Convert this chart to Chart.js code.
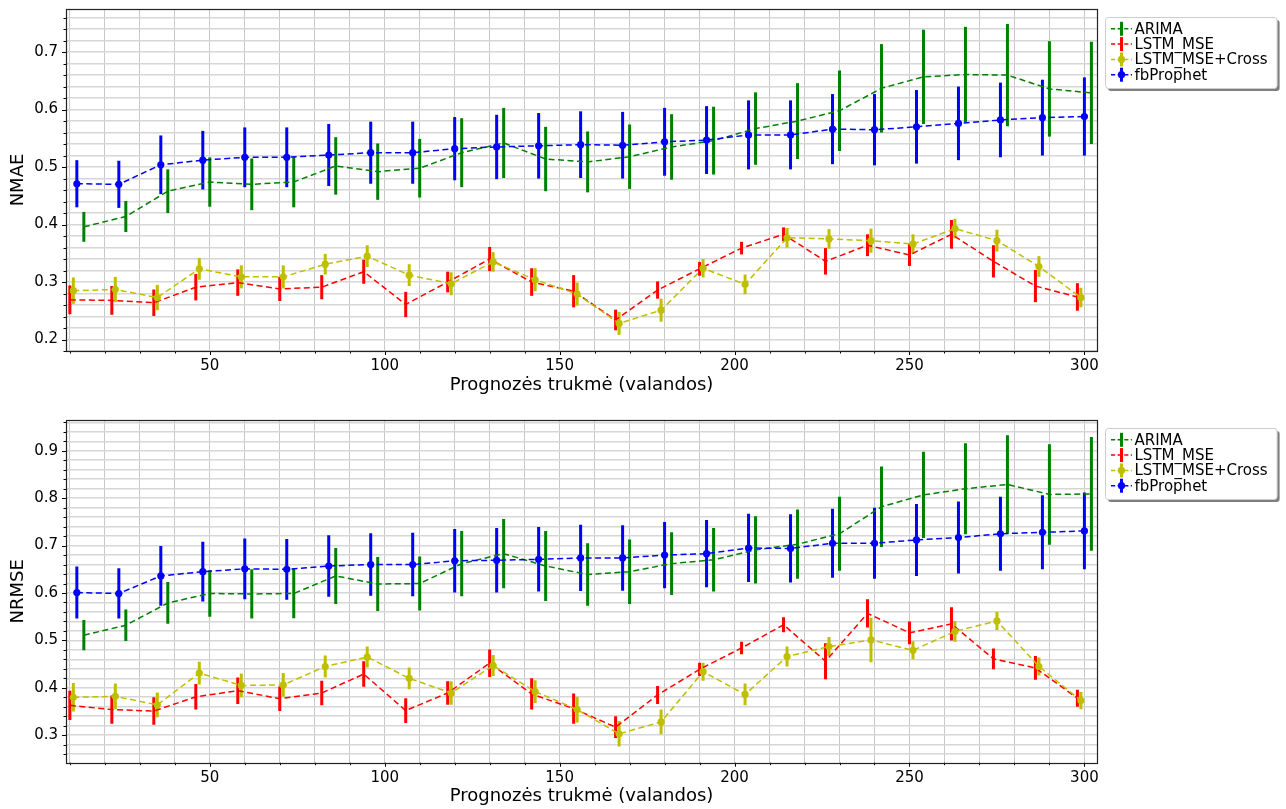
<!DOCTYPE html>
<html>
<head>
<meta charset="utf-8">
<script src="https://cdn.jsdelivr.net/npm/chart.js@4.4.0/dist/chart.umd.min.js"></script>
<style>
    html, body { margin: 0; padding: 0; background: #fff; }
    #topBox { position: absolute; left: 0; top: 0; width: 1286px; height: 405px; }
    #bottomBox { position: absolute; left: 0; top: 405px; width: 1286px; height: 404px; }
</style>
</head>
<body>
<div id="topBox"><canvas id="nmaeChart"></canvas></div>
<div id="bottomBox"><canvas id="nrmseChart"></canvas></div>
<script>
    // forecast horizon (hours)
    var horizons = [12, 24, 36, 48, 60, 72, 84, 96, 108, 120, 132, 144, 156, 168, 180, 192, 204, 216, 228, 240, 252, 264, 276, 288, 300];
    var seriesNames = ['ARIMA', 'LSTM_MSE', 'LSTM_MSE+Cross', 'fbProphet'];
    var xTickLabels = [50, 100, 150, 200, 250, 300];
    var nmaeTickLabels = [0.2, 0.3, 0.4, 0.5, 0.6, 0.7];
    var nrmseTickLabels = [0.3, 0.4, 0.5, 0.6, 0.7, 0.8, 0.9];

    // NMAE
    var arimaNmae = [0.396, 0.414, 0.458, 0.474, 0.470, 0.474, 0.502, 0.492, 0.498, 0.525, 0.542, 0.514, 0.509, 0.518, 0.535, 0.546, 0.567, 0.580, 0.598, 0.637, 0.657, 0.661, 0.660, 0.636, 0.629];
    var arimaNmaeErr = [0.026, 0.027, 0.038, 0.043, 0.045, 0.044, 0.050, 0.049, 0.051, 0.060, 0.061, 0.056, 0.053, 0.056, 0.057, 0.059, 0.063, 0.066, 0.070, 0.077, 0.082, 0.083, 0.089, 0.083, 0.089];
    var lstmNmae = [0.269, 0.268, 0.264, 0.291, 0.299, 0.288, 0.291, 0.318, 0.261, 0.300, 0.340, 0.300, 0.284, 0.234, 0.286, 0.323, 0.359, 0.383, 0.336, 0.364, 0.347, 0.383, 0.336, 0.293, 0.274];
    var lstmNmaeErr = [0.025, 0.025, 0.023, 0.023, 0.023, 0.021, 0.021, 0.021, 0.022, 0.018, 0.021, 0.024, 0.028, 0.018, 0.015, 0.012, 0.011, 0.012, 0.023, 0.019, 0.019, 0.025, 0.028, 0.028, 0.024];
    var crossNmae = [0.285, 0.287, 0.273, 0.323, 0.309, 0.309, 0.331, 0.345, 0.312, 0.297, 0.335, 0.304, 0.279, 0.228, 0.251, 0.324, 0.296, 0.377, 0.375, 0.372, 0.366, 0.393, 0.372, 0.327, 0.273];
    var crossNmaeErr = [0.023, 0.022, 0.022, 0.019, 0.020, 0.020, 0.018, 0.019, 0.019, 0.020, 0.017, 0.020, 0.020, 0.020, 0.020, 0.016, 0.017, 0.017, 0.017, 0.021, 0.017, 0.017, 0.019, 0.018, 0.017];
    var prophetNmae = [0.471, 0.470, 0.504, 0.512, 0.517, 0.517, 0.521, 0.525, 0.525, 0.532, 0.535, 0.537, 0.539, 0.538, 0.544, 0.547, 0.556, 0.556, 0.566, 0.565, 0.570, 0.576, 0.582, 0.586, 0.588];
    var prophetNmaeErr = [0.041, 0.041, 0.051, 0.051, 0.052, 0.052, 0.054, 0.054, 0.054, 0.055, 0.056, 0.057, 0.058, 0.058, 0.059, 0.059, 0.060, 0.060, 0.061, 0.062, 0.064, 0.064, 0.065, 0.066, 0.068];

    // NRMSE
    var arimaNrmse = [0.511, 0.532, 0.579, 0.599, 0.598, 0.599, 0.636, 0.619, 0.620, 0.662, 0.683, 0.657, 0.639, 0.645, 0.662, 0.670, 0.691, 0.703, 0.725, 0.782, 0.807, 0.820, 0.829, 0.808, 0.809];
    var arimaNrmseErr = [0.032, 0.033, 0.044, 0.049, 0.052, 0.052, 0.059, 0.057, 0.057, 0.069, 0.073, 0.074, 0.066, 0.068, 0.066, 0.067, 0.071, 0.073, 0.078, 0.085, 0.091, 0.096, 0.104, 0.106, 0.120];
    var lstmNrmse = [0.363, 0.354, 0.351, 0.381, 0.394, 0.377, 0.389, 0.429, 0.352, 0.389, 0.452, 0.387, 0.356, 0.317, 0.385, 0.439, 0.484, 0.533, 0.456, 0.557, 0.516, 0.535, 0.461, 0.442, 0.378];
    var lstmNrmseErr = [0.031, 0.030, 0.029, 0.027, 0.028, 0.026, 0.026, 0.027, 0.026, 0.025, 0.029, 0.033, 0.032, 0.023, 0.019, 0.014, 0.013, 0.016, 0.038, 0.030, 0.024, 0.035, 0.022, 0.025, 0.018];
    var crossNrmse = [0.380, 0.382, 0.364, 0.431, 0.405, 0.406, 0.445, 0.465, 0.420, 0.389, 0.447, 0.392, 0.354, 0.303, 0.328, 0.434, 0.386, 0.466, 0.487, 0.501, 0.479, 0.519, 0.541, 0.445, 0.373];
    var crossNrmseErr = [0.030, 0.027, 0.026, 0.024, 0.025, 0.025, 0.023, 0.022, 0.023, 0.025, 0.022, 0.024, 0.027, 0.027, 0.026, 0.019, 0.023, 0.021, 0.020, 0.047, 0.019, 0.022, 0.019, 0.019, 0.018];
    var prophetNrmse = [0.601, 0.599, 0.636, 0.645, 0.651, 0.650, 0.657, 0.660, 0.660, 0.668, 0.669, 0.671, 0.674, 0.674, 0.680, 0.683, 0.695, 0.694, 0.705, 0.705, 0.712, 0.717, 0.725, 0.728, 0.731];
    var prophetNrmseErr = [0.055, 0.053, 0.063, 0.063, 0.064, 0.064, 0.065, 0.066, 0.067, 0.067, 0.068, 0.068, 0.070, 0.069, 0.070, 0.071, 0.072, 0.072, 0.073, 0.075, 0.076, 0.076, 0.078, 0.078, 0.081];

    var FONT = 'DejaVu Sans';
    var colors = ['#008000', '#ff0000', '#bfbf00', '#0000ff'];
    var shifts = [2, -2, -1, 0];      // small dodge so bars don't overlap
    var markers = [0, 0, 3.6, 3.6];

    var makeDataset = function (i, values, errors) {
        return {
            label: seriesNames[i],
            data: horizons.map(function (h, k) { return { x: h + shifts[i], y: values[k] }; }),
            errors: errors,
            borderColor: colors[i],
            backgroundColor: colors[i],
            borderWidth: 1.5,
            borderDash: [6, 3.5],
            pointRadius: markers[i],
            pointHoverRadius: markers[i],
            pointBackgroundColor: colors[i],
            pointBorderWidth: 0,
            tension: 0,
            fill: false,
            order: 4 - i
        };
    };

    // all bars go under all lines, like matplotlib errorbar
    var errorBarPlugin = {
        id: 'errorBars',
        beforeDatasetsDraw: function (chart) {
            var ctx = chart.ctx, area = chart.chartArea;
            var xs = chart.scales.x, ys = chart.scales.y;
            ctx.save();
            ctx.beginPath();
            ctx.rect(area.left, area.top, area.right - area.left, area.bottom - area.top);
            ctx.clip();
            ctx.lineWidth = 3;
            chart.data.datasets.forEach(function (ds) {
                ctx.strokeStyle = ds.borderColor;
                ds.data.forEach(function (p, k) {
                    var px = xs.getPixelForValue(p.x);
                    ctx.beginPath();
                    ctx.moveTo(px, ys.getPixelForValue(p.y - ds.errors[k]));
                    ctx.lineTo(px, ys.getPixelForValue(p.y + ds.errors[k]));
                    ctx.stroke();
                });
            });
            ctx.restore();
        }
    };

    var framePlugin = {
        id: 'frame',
        afterDatasetsDraw: function (chart) {
            var ctx = chart.ctx, a = chart.chartArea;
            ctx.save();
            ctx.strokeStyle = '#000';
            ctx.lineWidth = 1;
            ctx.beginPath();
            chart.scales.x.ticks.forEach(function (t) {
                var px = Math.round(chart.scales.x.getPixelForValue(t.value)) + 0.5;
                var len = t.major ? 4 : 2.5;
                ctx.moveTo(px, a.bottom);
                ctx.lineTo(px, a.bottom + len);
            });
            chart.scales.y.ticks.forEach(function (t) {
                var py = Math.round(chart.scales.y.getPixelForValue(t.value)) + 0.5;
                var len = t.major ? 4 : 2.5;
                ctx.moveTo(a.left, py);
                ctx.lineTo(a.left - len, py);
            });
            ctx.stroke();
            ctx.strokeStyle = '#222';
            ctx.lineWidth = 1.2;
            ctx.strokeRect(Math.round(a.left) + 0.5, Math.round(a.top) + 0.5, Math.round(a.right - a.left), Math.round(a.bottom - a.top));
            ctx.restore();
        }
    };

    var legendPlugin = {
        id: 'boxLegend',
        afterDraw: function (chart) {
            var ctx = chart.ctx, a = chart.chartArea;
            var left = a.right + 8, top = a.top + 8;
            var rowH = 15.3;
            ctx.save();
            ctx.font = '15px "' + FONT + '"';
            var maxW = 0;
            chart.data.datasets.forEach(function (ds) {
                maxW = Math.max(maxW, ctx.measureText(ds.label).width);
            });
            var w = 29.5 + maxW + 9, h = 71;

            ctx.fillStyle = 'rgba(0,0,0,0.5)';
            ctx.beginPath();
            ctx.roundRect(left + 3, top + 3, w, h, 3);
            ctx.fill();
            ctx.fillStyle = '#fff';
            ctx.strokeStyle = '#cccccc';
            ctx.lineWidth = 1;
            ctx.beginPath();
            ctx.roundRect(left + 0.5, top + 0.5, w, h, 3);
            ctx.fill();
            ctx.stroke();

            chart.data.datasets.forEach(function (ds, i) {
                var cy = top + 11.8 + i * rowH;
                var hx = left + 6, hw = 21, cx = hx + hw / 2;
                ctx.strokeStyle = ds.borderColor;
                ctx.lineWidth = 1.5;
                ctx.setLineDash([4.2, 2.4]);
                ctx.beginPath();
                ctx.moveTo(hx, cy);
                ctx.lineTo(hx + hw, cy);
                ctx.stroke();
                ctx.setLineDash([]);
                ctx.lineWidth = 3;
                ctx.beginPath();
                ctx.moveTo(cx, cy - 7);
                ctx.lineTo(cx, cy + 7);
                ctx.stroke();
                if (ds.pointRadius > 0) {
                    ctx.fillStyle = ds.borderColor;
                    ctx.beginPath();
                    ctx.arc(cx, cy, ds.pointRadius, 0, Math.PI * 2);
                    ctx.fill();
                }
                ctx.fillStyle = '#000';
                ctx.textBaseline = 'middle';
                ctx.textAlign = 'left';
                ctx.fillText(ds.label, left + 29.5, cy + 1);
            });
            ctx.restore();
        }
    };

    var makeChart = function (canvasId, yTitle, datasets, yMin, yMax, yLabels, pad, xAxisHeight, xTitlePad) {
        var yStep = 0.02;
        return new Chart(document.getElementById(canvasId), {
            type: 'line',
            data: { datasets: datasets },
            plugins: [errorBarPlugin, framePlugin, legendPlugin],
            options: {
                responsive: true,
                maintainAspectRatio: false,
                devicePixelRatio: 1,
                animation: false,
                layout: { padding: { left: 0, right: 189, top: pad, bottom: 0 } },
                plugins: {
                    legend: { display: false },
                    tooltip: { enabled: false }
                },
                scales: {
                    x: {
                        type: 'linear',
                        min: 8.9,
                        max: 303.6,
                        afterBuildTicks: function (scale) {
                            var ticks = [];
                            for (var v = 10; v <= 300; v += 10) {
                                ticks.push({ value: v, major: xTickLabels.indexOf(v) >= 0 });
                            }
                            scale.ticks = ticks;
                        },
                        afterFit: function (scale) {
                            scale.height = xAxisHeight;
                            scale.paddingLeft = 0;
                            scale.paddingRight = 0;
                        },
                        ticks: {
                            autoSkip: false,
                            maxRotation: 0,
                            padding: 6,
                            color: '#000',
                            font: { family: FONT, size: 15 },
                            callback: function (value) {
                                return xTickLabels.indexOf(value) >= 0 ? String(value) : '';
                            }
                        },
                        grid: { color: '#c8c8c8', lineWidth: 1, drawTicks: false },
                        border: { display: false },
                        title: {
                            display: true,
                            text: 'Prognozės trukmė (valandos)',
                            color: '#000',
                            font: { family: FONT, size: 18 },
                            padding: { top: 0, bottom: xTitlePad }
                        }
                    },
                    y: {
                        type: 'linear',
                        min: yMin,
                        max: yMax,
                        afterBuildTicks: function (scale) {
                            var ticks = [];
                            for (var k = Math.ceil(yMin / yStep); k <= Math.floor(yMax / yStep); k++) {
                                var v = Math.round(k * yStep * 100) / 100;
                                ticks.push({ value: v, major: yLabels.indexOf(v) >= 0 });
                            }
                            scale.ticks = ticks;
                        },
                        afterFit: function (scale) {
                            scale.width = 66;
                            scale.paddingTop = 0;
                            scale.paddingBottom = 0;
                        },
                        ticks: {
                            autoSkip: false,
                            padding: 8,
                            color: '#000',
                            font: { family: FONT, size: 15 },
                            callback: function (value) {
                                var v = Math.round(value * 100) / 100;
                                return yLabels.indexOf(v) >= 0 ? v.toFixed(1) : '';
                            }
                        },
                        grid: { color: '#d6d6d6', lineWidth: 1.6, drawTicks: false },
                        border: { display: false },
                        title: {
                            display: true,
                            text: yTitle,
                            color: '#000',
                            font: { family: FONT, size: 18 },
                            padding: { top: 8, bottom: 0 }
                        }
                    }
                }
            }
        });
    };

    makeChart('nmaeChart', 'NMAE', [
        makeDataset(0, arimaNmae, arimaNmaeErr),
        makeDataset(1, lstmNmae, lstmNmaeErr),
        makeDataset(2, crossNmae, crossNmaeErr),
        makeDataset(3, prophetNmae, prophetNmaeErr)
    ], 0.180, 0.775, nmaeTickLabels, 9, 54, 9);

    makeChart('nrmseChart', 'NRMSE', [
        makeDataset(0, arimaNrmse, arimaNrmseErr),
        makeDataset(1, lstmNrmse, lstmNrmseErr),
        makeDataset(2, crossNrmse, crossNrmseErr),
        makeDataset(3, prophetNrmse, prophetNrmseErr)
    ], 0.242, 0.965, nrmseTickLabels, 15, 46.3, 2.2);
</script>
</body>
</html>
